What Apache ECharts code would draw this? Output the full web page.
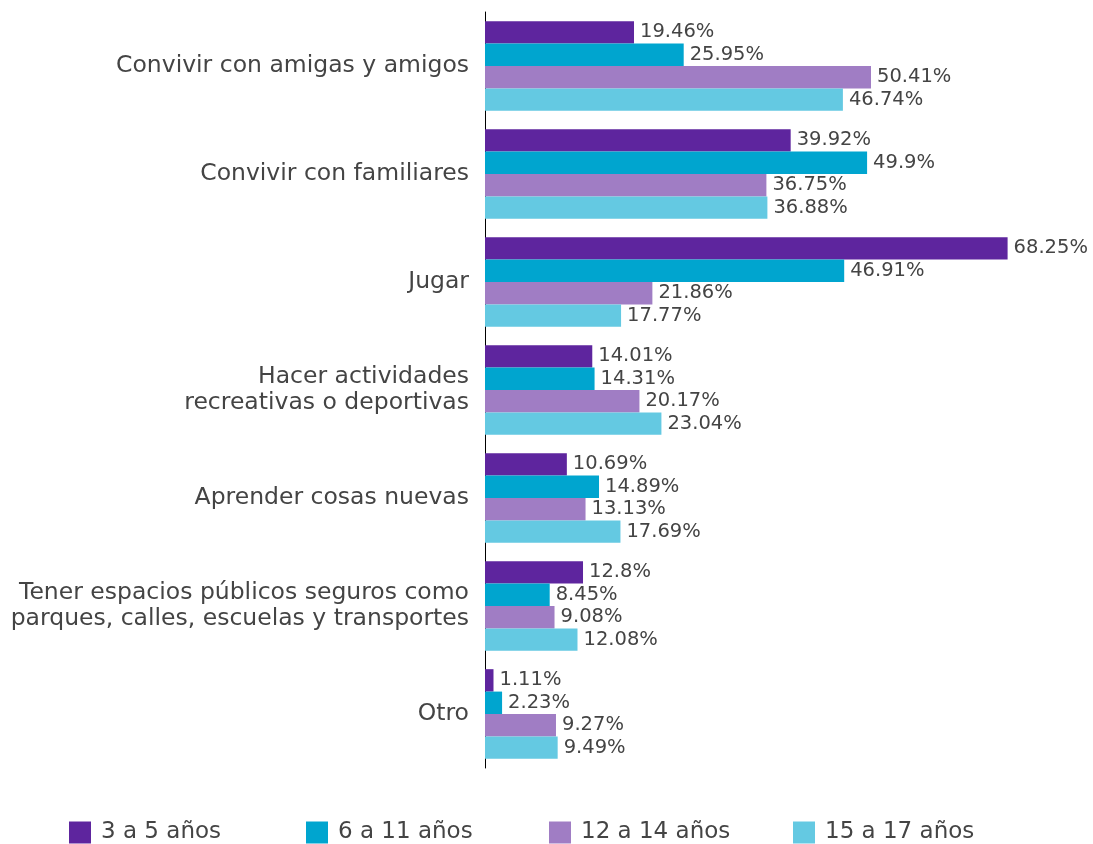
<!DOCTYPE html>
<html>
<head>
<meta charset="utf-8">
<script src="https://cdn.jsdelivr.net/npm/echarts@6/dist/echarts.min.js"></script>
<style>html,body{margin:0;padding:0;background:#fff;}#c{width:1093px;height:844px;}</style>
</head>
<body>
<div id="c"></div>
<script>
const categories = [
  "Convivir con amigas y amigos",
  "Convivir con familiares",
  "Jugar",
  "Hacer actividades\nrecreativas o deportivas",
  "Aprender cosas nuevas",
  "Tener espacios públicos seguros como\nparques, calles, escuelas y transportes",
  "Otro"
];
const seriesNames = ["3 a 5 años", "6 a 11 años", "12 a 14 años", "15 a 17 años"];
const age3to5 = [19.46, 39.92, 68.25, 14.01, 10.69, 12.8, 1.11];
const age6to11 = [25.95, 49.9, 46.91, 14.31, 14.89, 8.45, 2.23];
const age12to14 = [50.41, 36.75, 21.86, 20.17, 13.13, 9.08, 9.27];
const age15to17 = [46.74, 36.88, 17.77, 23.04, 17.69, 12.08, 9.49];
const colors = ["#5E259E", "#00A5CF", "#A07DC4", "#64C9E2"];

const FONT = "DejaVu Sans";
const TXT = '#444444';
const values = [age3to5, age6to11, age12to14, age15to17];
const legendLeft = [69, 306, 549, 793];

const chart = echarts.init(document.getElementById('c'));
chart.setOption({
  animation: false,
  textStyle: { fontFamily: FONT },
  grid: { left: 485, right: 72, top: 12, bottom: 76, containLabel: false },
  legend: seriesNames.map((n, i) => ({
    data: [n],
    left: legendLeft[i],
    top: 821,
    padding: 0,
    icon: 'rect',
    itemWidth: 22,
    itemHeight: 22,
    itemGap: 10,
    textStyle: { fontFamily: FONT, fontWeight: 'normal', fontSize: 23, color: TXT, padding: [0, 0, 0, 5] }
  })),
  xAxis: {
    type: 'value', min: 0, max: 70,
    show: false,
    splitLine: { show: false }
  },
  yAxis: {
    type: 'category',
    data: categories,
    inverse: true,
    axisLine: { show: true, lineStyle: { color: '#000', width: 1 } },
    axisTick: { show: false },
    axisLabel: {
      fontFamily: FONT, fontWeight: 'normal', fontSize: 23.5, color: TXT,
      margin: 16, lineHeight: 26, align: 'right'
    }
  },
  series: seriesNames.map((n, i) => ({
    name: n,
    type: 'bar',
    data: values[i],
    barGap: '0%',
    barCategoryGap: '17%',
    itemStyle: { color: colors[i] },
    label: {
      show: true, position: 'right', distance: 6,
      formatter: '{c}%',
      fontFamily: FONT, fontWeight: 'normal', fontSize: 19.5, color: TXT
    }
  }))
});
</script>
</body>
</html>
